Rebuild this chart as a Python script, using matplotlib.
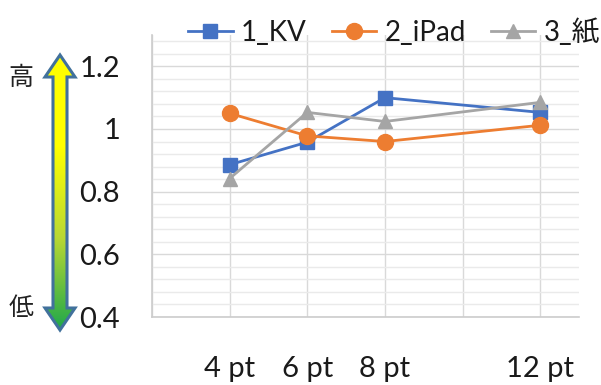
import numpy as np
import matplotlib
matplotlib.use("Agg")
import matplotlib.pyplot as plt
from matplotlib.patches import Polygon
from matplotlib.ticker import MultipleLocator, FixedLocator
from matplotlib.colors import LinearSegmentedColormap

plt.rcParams['font.family'] = ['Lato', 'Noto Sans CJK JP', 'DejaVu Sans']

# font sizes (pt) and their values
sizes = [4, 6, 8, 12]
size_labels = ['4 pt', '6 pt', '8 pt', '12 pt']
kv = [0.886, 0.958, 1.100, 1.053]
ipad = [1.050, 0.978, 0.960, 1.012]
paper = [0.842, 1.053, 1.024, 1.085]
series_names = ['1_KV', '2_iPad', '3_紙']
y_ticks = [0.4, 0.6, 0.8, 1.0, 1.2]
y_tick_labels = ['0.4', '0.6', '0.8', '1', '1.2']

W, H = 601, 385
fig = plt.figure(figsize=(W / 100, H / 100), dpi=100)
ax = fig.add_axes([152 / W, (H - 317) / H, (579 - 152) / W, (317 - 35) / H])

colors = ['#4472C4', '#ED7D31', '#A5A5A5']
markers = ['s', 'o', '^']
msizes = [10, 11.5, 10.5]
for vals, name, c, m, ms in zip([kv, ipad, paper], series_names, colors, markers, msizes):
    ax.plot(sizes, vals, color=c, lw=2, marker=m, markersize=ms,
            markerfacecolor=c, markeredgecolor=c, label=name, zorder=3)

ax.set_xlim(2, 13)
ax.set_ylim(0.4, 1.3)
ax.xaxis.set_major_locator(FixedLocator(sizes))
ax.set_xticklabels(size_labels)
ax.xaxis.set_minor_locator(MultipleLocator(2))
ax.set_yticks(y_ticks)
ax.set_yticklabels(y_tick_labels)
ax.yaxis.set_minor_locator(MultipleLocator(0.04))

ax.grid(True, which='minor', axis='y', color='#EAEAEA', lw=1, zorder=0)
ax.grid(True, which='major', axis='y', color='#D9D9D9', lw=1, zorder=0)
ax.grid(True, which='minor', axis='x', color='#D9D9D9', lw=1, zorder=0)
ax.grid(True, which='major', axis='x', color='#D9D9D9', lw=1, zorder=0)
ax.set_axisbelow(True)

for s in ['top', 'right']:
    ax.spines[s].set_visible(False)
for s in ['left', 'bottom']:
    ax.spines[s].set_color('#CCCCCC')
    ax.spines[s].set_linewidth(1.2)

ax.tick_params(axis='both', which='both', length=0, labelsize=21, colors='#1A1A1A')
ax.tick_params(axis='y', pad=23)
ax.tick_params(axis='x', pad=28)

leg = ax.legend(loc='center', ncol=3, frameon=False, fontsize=20, handlelength=1.6,
                handletextpad=0.3, columnspacing=0.9, borderaxespad=0)
leg.set_bbox_to_anchor((394 / W, (H - 32) / H), transform=fig.transFigure)
for t in leg.get_texts():
    t.set_color('#1A1A1A')

# overlay in pixel coordinates for the high/low gradient arrow
ov = fig.add_axes([0, 0, 1, 1], zorder=5)
ov.set_xlim(0, W)
ov.set_ylim(H, 0)
ov.axis('off')
ov.patch.set_alpha(0)

cx, top, bot = 60, 55, 330
shaft, head, hl = 7, 15, 22
pts = [(cx, top), (cx + head, top + hl), (cx + shaft, top + hl), (cx + shaft, bot - hl),
       (cx + head, bot - hl), (cx, bot), (cx - head, bot - hl), (cx - shaft, bot - hl),
       (cx - shaft, top + hl), (cx - head, top + hl)]
poly = Polygon(pts, closed=True, facecolor='none', edgecolor='#41719C', lw=2.2, zorder=6)
ov.add_patch(poly)
grad = np.linspace(0, 1, 256).reshape(-1, 1)
cmap = LinearSegmentedColormap.from_list('hl', ['#FFFF00', '#FFFF00', '#B8D834', '#1FA84A'])
im = ov.imshow(grad, cmap=cmap, extent=(cx - head, cx + head, bot, top), aspect='auto',
               zorder=5, interpolation='bilinear')
clip = Polygon(pts, closed=True, transform=ov.transData)
im.set_clip_path(clip)
ov.set_xlim(0, W)
ov.set_ylim(H, 0)

ov.text(21, 78, '高', fontsize=18, ha='center', va='center', family=['Noto Sans CJK JP'], color='#222222')
ov.text(21, 308, '低', fontsize=18, ha='center', va='center', family=['Noto Sans CJK JP'], color='#222222')

fig.savefig('out.png', dpi=100)
